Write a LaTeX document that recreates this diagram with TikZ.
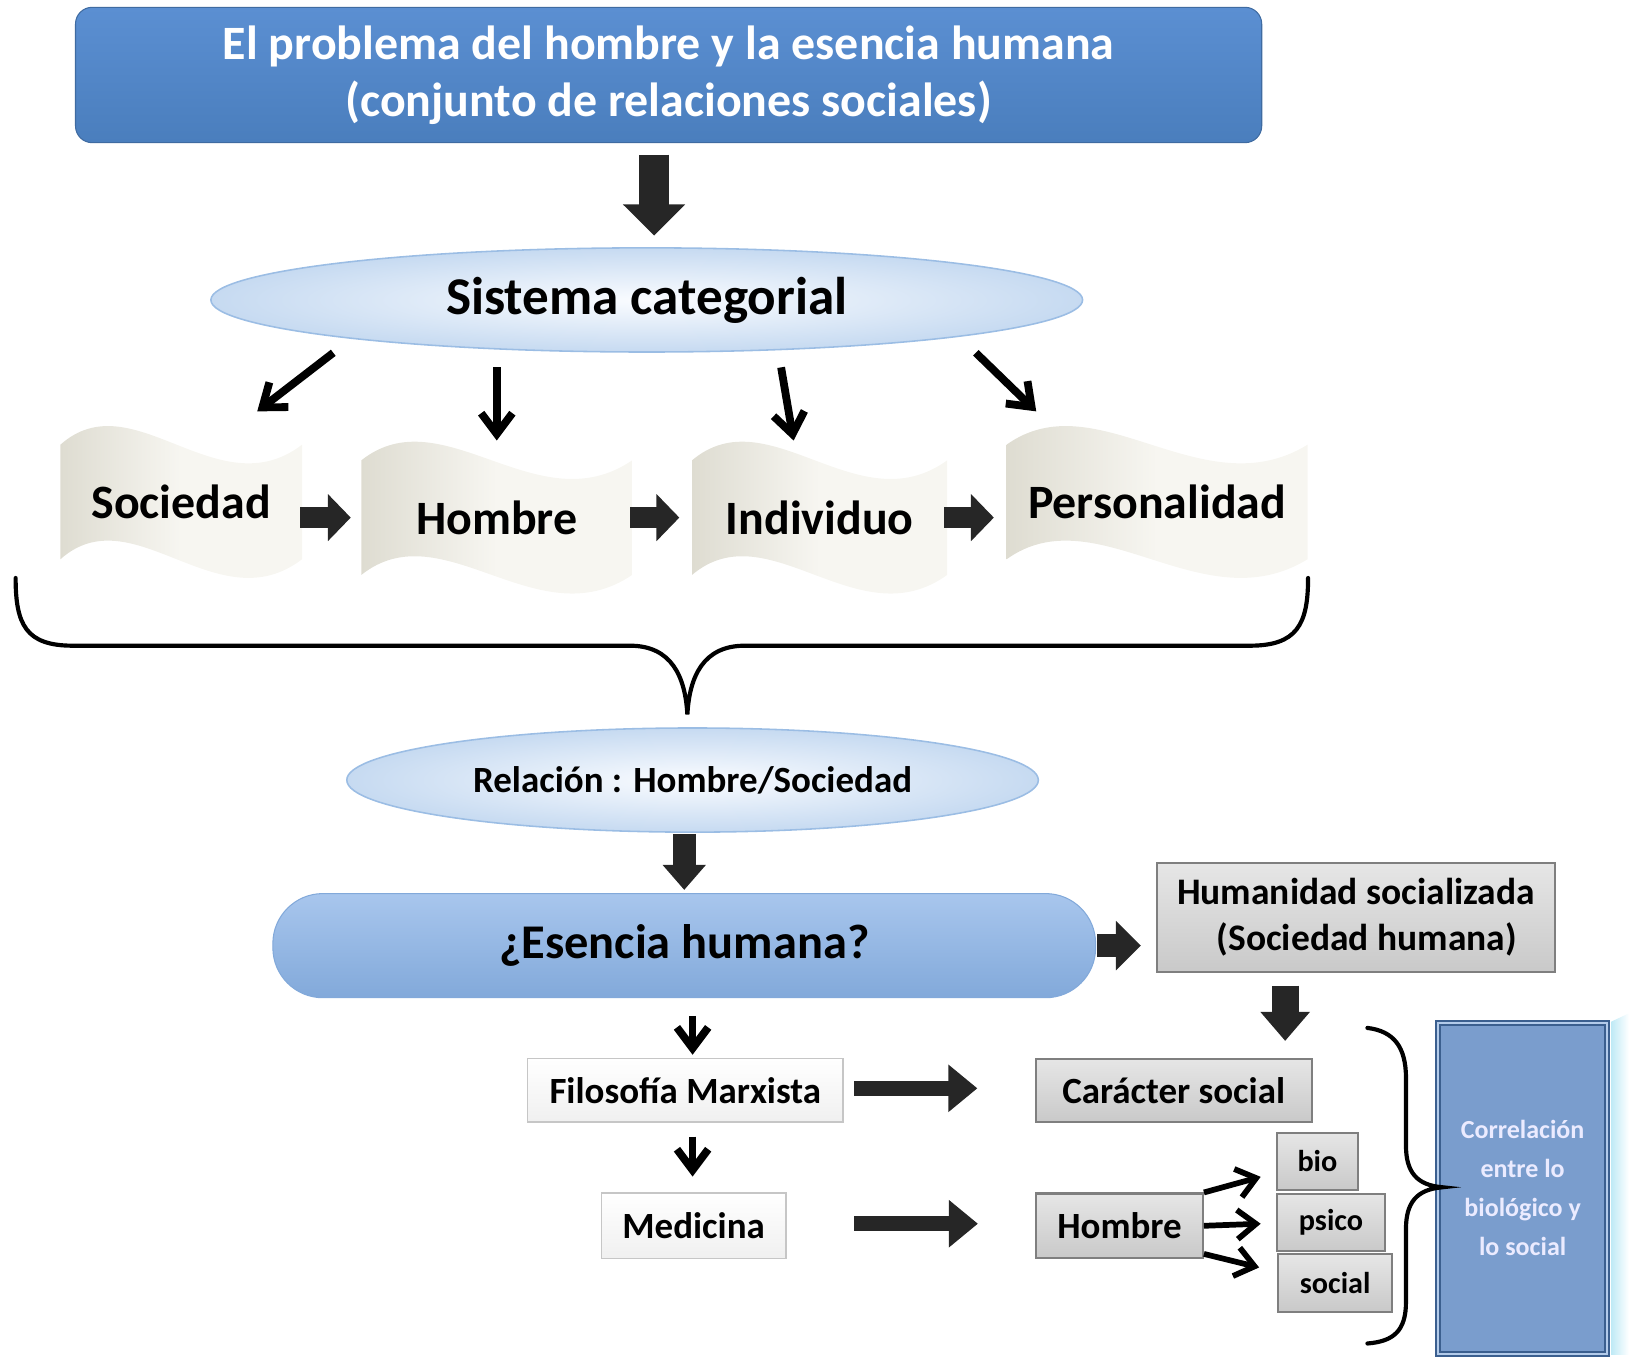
\documentclass[tikz,border=0pt]{standalone}
\usepackage{fontspec}
\setmainfont{Carlito}
\usetikzlibrary{arrows.meta, positioning, shapes.geometric, calc}

\definecolor{titleblue}{HTML}{4A7EBD}
\definecolor{titletop}{HTML}{5B8FD2}
\definecolor{ellout}{HTML}{C6DAF1}
\definecolor{ellin}{HTML}{FAFCFF}
\definecolor{ellline}{HTML}{9BBDE4}
\definecolor{pilltop}{HTML}{A8C6ED}
\definecolor{pillbot}{HTML}{82A9DA}
\definecolor{wavedark}{HTML}{DEDCD1}
\definecolor{wavelight}{HTML}{F7F6F1}
\definecolor{boxtop}{HTML}{E6E6E6}
\definecolor{boxbot}{HTML}{C9C9C9}
\definecolor{boxline}{HTML}{7F7F7F}
\definecolor{sideblue}{HTML}{7A9DCD}
\definecolor{sideline}{HTML}{3B5F8F}
\definecolor{sideinner}{HTML}{B3CBEA}
\definecolor{sidestrip}{HTML}{BFEAF6}

\begin{document}
\begin{tikzpicture}
  [
    x                   = 1pt,
    y                   = -1pt,
    every node/.style   = {inner sep=0pt, font=\bfseries},
    titlebox/.style     = {rectangle, rounded corners=16pt, top color=titletop, bottom color=titleblue,
                           draw=titleblue!85!black, line width=1pt, text=white, align=center,
                           minimum width=1139pt, minimum height=130pt,
                           font=\fontsize{46}{55}\selectfont\bfseries},
    cloud/.style        = {ellipse, inner color=ellin, outer color=ellout, draw=ellline, line width=1.5pt},
    pill/.style         = {rectangle, rounded corners=48pt, top color=pilltop, bottom color=pillbot,
                           draw=pillbot, line width=1pt, minimum width=790pt, minimum height=100pt,
                           font=\fontsize{46.5}{52}\selectfont\bfseries},
    wavefill/.style     = {left color=wavedark, right color=wavelight, middle color=wavelight},
    wavetext/.style     = {rectangle, minimum height=110pt, font=\fontsize{46}{52}\selectfont\bfseries},
    graybox/.style      = {rectangle, top color=boxtop, bottom color=boxbot, draw=boxline, line width=2pt,
                           font=\fontsize{35.5}{43}\selectfont\bfseries},
    whitebox/.style     = {rectangle, top color=white, bottom color=gray!12, draw=gray!45, line width=1.5pt,
                           font=\fontsize{35.5}{40}\selectfont\bfseries},
    smallbox/.style     = {graybox, minimum height=55pt, font=\fontsize{29}{34}\selectfont\bfseries},
    sidebox/.style      = {rectangle, fill=sideblue, draw=sideline, line width=2pt, double=sideinner,
                           double distance=2pt, text=white!92!blue, align=center,
                           font=\fontsize{25}{37.5}\selectfont\bfseries},
    fat/.style args     = {#1/#2/#3}{draw=black!85, line width=#1, -{Triangle[width=#2, length=#3]}},
    arr/.style          = {line width=7.5pt, -{Straight Barb[length=20pt, width=30pt]}},
    arrsmall/.style     = {line width=5.5pt, -{Straight Barb[length=18pt, width=28pt]}},
    brace/.style        = {line width=4pt, line cap=round}
  ]

  \useasboundingbox (0,0) rectangle (1568,1303);

  \node[titlebox] (title) at (642,72) {El problema del hombre y la esencia humana\\(conjunto de relaciones sociales)};

  \node[cloud, minimum width=837pt, minimum height=100pt, font=\fontsize{51}{56}\selectfont\bfseries]
    (sis) at (621,288) {Sistema categorial};

  \foreach \nm/\cx/\cy/\w/\txt in {soc/174/482/232/Sociedad, hom/477/497/260/Hombre,
                                   ind/787/497/245/Individuo, per/1111/482/289/Personalidad}
  {
    \path[wavefill] ({\cx-\w/2},{\cy-55})
      .. controls ({\cx-0.2*\w},{\cy-117}) and ({\cx+0.15*\w},{\cy+7}) .. ({\cx+\w/2},{\cy-55})
      -- ({\cx+\w/2},{\cy+55})
      .. controls ({\cx+0.15*\w},{\cy+117}) and ({\cx-0.2*\w},{\cy-7}) .. ({\cx-\w/2},{\cy+55}) -- cycle;
    \node[wavetext, minimum width=\w pt] (\nm) at (\cx,\cy) {\txt};
  }

  \node[cloud, minimum width=664pt, minimum height=100pt, font=\fontsize{35.5}{40}\selectfont\bfseries]
    (rel) at (665,749) {Relación : Hombre/Sociedad};

  \node[pill] (ess) at (657,908) {¿Esencia humana?};

  \node[graybox, minimum width=383pt, minimum height=105pt, align=left, font=\fontsize{36}{44}\selectfont\bfseries]
    (hum) at (1302,881) {Humanidad socializada\\\hspace*{38pt}(Sociedad humana)};

  \node[whitebox, minimum width=303pt, minimum height=61pt] (fil) at (658,1047) {Filosofía Marxista};
  \node[graybox, minimum width=265pt, minimum height=61pt] (car) at (1127,1047) {Carácter social};
  \node[whitebox, minimum width=177pt, minimum height=63pt] (med) at (666,1177) {Medicina};
  \node[graybox, minimum width=160pt, minimum height=62pt] (hom2) at (1075,1177) {Hombre};

  \node[smallbox, minimum width=77pt] (bio) at (1265,1115) {bio};
  \node[smallbox, minimum width=103pt] (psico) at (1278,1174) {psico};
  \node[smallbox, minimum width=110pt] (social) at (1282,1232) {social};

  \node[sidebox, minimum width=162pt, minimum height=318pt]
    (corr) at (1462,1141) {Correlación\\entre lo\\biológico y\\lo social};
  \path[left color=sidestrip, right color=white]
    ($(corr.north east)+(3,0)$) -- ($(corr.north east)+(20,-8)$) -- ($(corr.south east)+(20,0)$) -- ($(corr.south east)+(3,0)$) -- cycle;

  \draw[fat=28pt/58pt/30pt] ($(title.south)+(-14,11)$) -- ($(sis.north)+(7,-11)$);

  \draw[arr] ($(sis.south)+(-301,0)$) -- ($(soc)+(73,-87)$);
  \draw[arr] ($(sis.south)+(-144,14)$) -- ($(hom)+(0,-74)$);
  \draw[arr] ($(sis.south)+(129,14)$) -- ($(ind)+(-25,-74)$);
  \draw[arr] ($(sis.south)+(316,0)$) -- ($(per)+(-116,-87)$);

  \draw[fat=20pt/44pt/22pt] ($(soc.east)+(-2,15)$) -- ($(hom.west)+(-10,0)$);
  \draw[fat=20pt/44pt/22pt] ($(hom.east)+(-2,0)$) -- ($(ind.west)+(-12,0)$);
  \draw[fat=20pt/44pt/22pt] ($(ind.east)+(-3,0)$) -- ($(per.west)+(-12,15)$);

  \draw[brace] (15,555) .. controls (15,600) and (25,620) .. (70,620) -- (605,620)
    .. controls (645,620) and (658,650) .. (660,686)
    .. controls (662,650) and (675,620) .. (715,620) -- (1200,620)
    .. controls (1245,620) and (1256,600) .. (1256,555);

  \draw[fat=22pt/40pt/24pt] ($(rel.south)+(-8,1)$) -- ($(ess.north)+(0,-3)$);
  \draw[fat=22pt/46pt/24pt] ($(ess.east)+(1,0)$) -- ($(hum.west)+(-14,27)$);
  \draw[fat=26pt/46pt/28pt] ($(hum.south)+(-68,12)$) -- ($(car.north)+(107,-16)$);

  \draw[arr] ($(ess.south)+(8,17)$) -- ($(fil.north)+(7,-3)$);
  \draw[arr] ($(fil.south)+(7,13)$) -- ($(med.north)+(-1,-15)$);

  \draw[fat=14pt/44pt/28pt] ($(fil.east)+(10,-2)$) -- ($(car.west)+(-55,-2)$);
  \draw[fat=14pt/44pt/28pt] ($(med.east)+(65,-2)$) -- ($(hom2.west)+(-55,-2)$);

  \draw[arrsmall] (hom2.north east) -- ($(bio.west)+(-15,15)$);
  \draw[arrsmall] (hom2.east) -- ($(psico.west)+(-15,1)$);
  \draw[arrsmall] ($(hom2.south east)+(0,-5)$) -- ($(social.west)+(-17,-15)$);

  \draw[brace] (1313,987) .. controls (1338,990) and (1350,1005) .. (1350,1035) -- (1350,1100)
    .. controls (1350,1125) and (1360,1138) .. (1385,1140)
    .. controls (1360,1142) and (1350,1155) .. (1350,1180) -- (1350,1250)
    .. controls (1350,1278) and (1338,1288) .. (1313,1290);
\end{tikzpicture}
\end{document}
